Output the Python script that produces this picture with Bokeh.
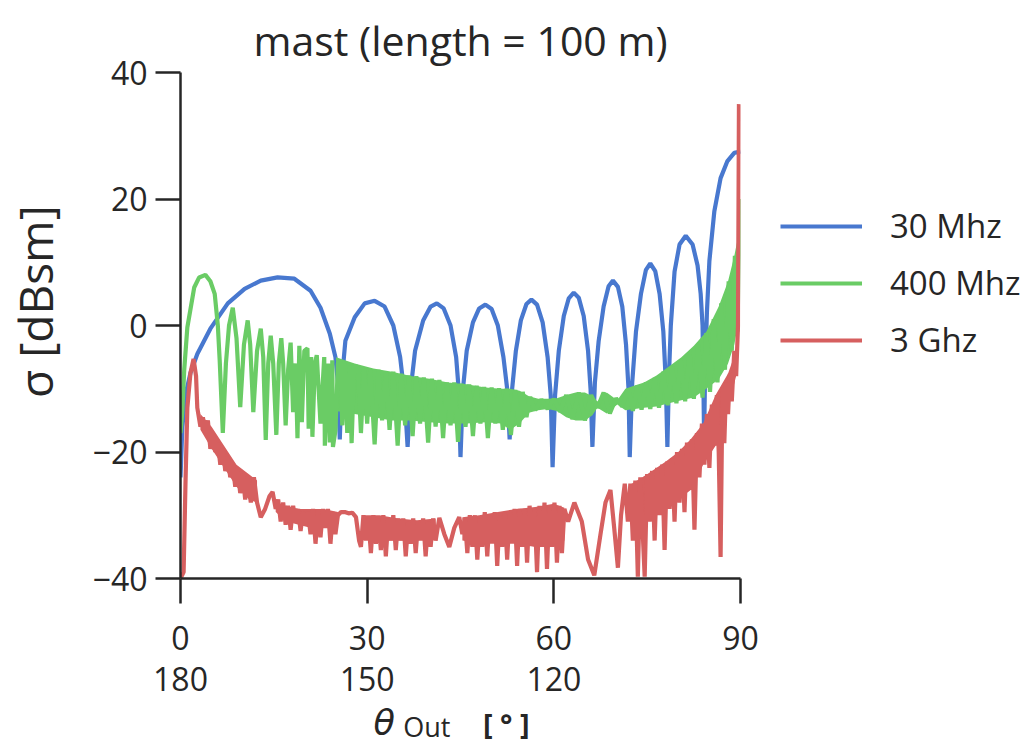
from bokeh.plotting import figure
from bokeh.models import Legend, LegendItem, Range1d, Label
from bokeh.layouts import row, column
from bokeh.embed import file_html
from bokeh.resources import INLINE

# ---------------- data ----------------
title_text = "mast (length = 100 m)"
series_names = ["30 Mhz", "400 Mhz", "3 Ghz"]
series_colors = ["#4878CF", "#6ACC65", "#D65F5F"]
x_ticks = [0, 30, 60, 90]
x_tick_labels = ["0\n180", "30\n150", "60\n120", "90"]
y_ticks = [-40, -20, 0, 20, 40]
y_tick_labels = ["\u221240", "\u221220", "0", "20", "40"]

# 30 MHz
blue_x = [0.0, 0.3, 0.8, 1.6, 2.7, 4.8, 7.6, 10.3, 12.9, 15.6, 18.3, 20.9, 22.5, 24.0, 24.9, 25.3, 25.6,
          25.9, 26.5, 28.0, 29.6, 31.2, 32.8, 34.2, 35.3, 36.0, 36.5,
          37.0, 37.7, 39.0, 40.2, 41.2, 42.3, 43.4, 44.3, 44.7, 45.0,
          45.4, 46.0, 47.0, 48.0, 49.0, 50.0, 51.0, 51.9, 52.5, 52.9,
          53.3, 53.9, 54.7, 55.6, 56.4, 57.3, 58.2, 59.0, 59.5, 59.8,
          60.2, 60.8, 61.6, 62.4, 63.2, 64.0, 64.8, 65.5, 65.9, 66.2,
          66.6, 67.2, 68.0, 68.8, 69.5, 70.3, 71.0, 71.6, 72.0, 72.2,
          72.6, 73.2, 74.0, 74.8, 75.5, 76.3, 77.0, 77.6, 78.0, 78.25,
          78.5, 78.8, 79.4, 80.2, 81.2, 82.3, 83.1, 83.6, 83.9, 84.05, 84.15,
          84.3, 84.6, 85.0, 85.8, 86.8, 87.9, 89.0, 90.0]
blue_y = [-24.0, -16.0, -11.0, -7.5, -4.5, -0.5, 3.5, 5.8, 7.1, 7.6, 7.4, 5.5, 2.8, -1.3, -5.0, -9.0, -18.0,
          -9.0, -2.4, 1.3, 3.5, 3.9, 3.0, 0.0, -5.0, -11.0, -19.2,
          -10.0, -4.0, 0.8, 3.0, 3.5, 2.7, 0.0, -5.0, -10.0, -20.8,
          -10.0, -4.0, 0.5, 2.7, 3.3, 2.6, 0.0, -5.0, -10.0, -18.0,
          -10.0, -4.0, 0.8, 3.4, 4.1, 3.3, 0.5, -5.0, -11.0, -22.4,
          -11.0, -4.0, 1.5, 4.3, 5.2, 4.4, 1.5, -4.0, -10.0, -19.2,
          -9.0, -2.5, 3.0, 6.2, 7.1, 6.1, 3.0, -3.0, -10.0, -20.8,
          -9.0, -1.0, 5.0, 8.8, 9.8, 8.6, 5.0, -1.0, -9.0, -19.2,
          -8.0, 0.0, 8.5, 12.8, 14.2, 12.8, 9.5, 5.0, 0.0, -10.0, -18.0,
          -8.0, 2.0, 10.2, 18.1, 23.3, 26.0, 27.3, 27.5]

# 400 MHz (individual lobes, then the dense part as peaks / dips)
green_x = [0.0, 0.3, 0.6, 1.1, 2.2, 3.0, 4.0, 4.8, 5.5, 6.0, 6.3, 6.8, 7.3, 7.8, 8.4, 9.0, 9.6,
           10.2, 10.8, 11.2, 11.7, 12.3, 12.9, 13.3, 13.7, 14.1, 14.5, 14.9, 15.4, 15.8, 16.2,
           16.5, 16.9, 17.3, 17.7, 18.1, 18.5, 18.8, 19.1, 19.5, 19.9, 20.4, 20.6, 21.0, 21.2,
           21.6, 21.9, 22.5, 23.1, 23.2, 23.7, 24.0, 24.4, 24.5, 24.9, 25.3, 25.7, 26.0, 26.4,
           26.8, 27.2, 27.5, 27.9, 28.5, 29.0, 29.5, 30.0, 30.5, 31.2, 31.8, 32.4, 33.0, 33.6,
           34.2, 34.9, 35.5, 36.1, 36.7, 37.3, 37.9, 38.5, 39.1, 39.8, 40.4, 41.0, 41.6, 42.2,
           42.8, 43.4, 44.0, 44.6, 45.2, 45.8, 46.4, 47.0, 47.6, 48.2, 48.8, 49.4, 50.0, 50.6,
           51.2, 51.8, 52.4, 53.1, 53.8, 54.4, 55.0, 55.6, 56.2, 57.0, 58.0, 59.0, 60.0, 61.0,
           62.0, 63.0, 64.0, 65.0, 66.0, 67.0, 68.0, 69.0, 70.0, 71.0, 72.0, 72.7, 73.4, 74.1,
           74.8, 75.5, 76.2, 76.9, 77.6, 78.3, 79.0, 79.7, 80.4, 81.1, 81.8, 82.5, 83.2, 83.9,
           84.5, 85.1, 85.7, 86.3, 86.9, 87.5, 88.1, 88.6, 89.1, 89.5, 89.8, 90.0]
green_y = [-17.0, -13.4, -7.0, -0.3, 6.0, 7.6, 8.0, 7.0, 5.0, 0.0, -5.5, -17.0, -6.0, 0.0, 2.8, -2.0, -12.9,
           -3.0, 0.8, -3.0, -13.7, -4.0, -0.5, -5.0, -18.1, -6.0, -1.6, -6.0, -17.3, -6.0, -2.0,
           -6.0, -15.8, -7.0, -2.7, -13.7, -6.0, -17.8, -3.2, -15.3, -4.0, -3.6, -16.3, -5.0, -17.6,
           -6.0, -4.7, -15.5, -5.0, -19.0, -6.0, -18.5, -5.5, -19.2, -16.6, -6.0, -5.5, -15.8, -6.0,
           -17.0, -6.3, -18.6, -6.6, -6.5, -17.0, -6.8, -15.5, -6.9, -18.8, -7.0, -15.0, -7.2, -16.5,
           -7.3, -19.0, -7.6, -15.8, -7.9, -17.5, -8.0, -15.5, -8.2, -18.5, -8.4, -16.0, -8.6, -17.8,
           -9.0, -15.8, -9.0, -18.4, -9.2, -16.0, -9.3, -17.5, -9.5, -15.5, -9.7, -17.8, -9.8, -15.5,
           -9.9, -16.5, -10.0, -17.3, -10.2, -16.0, -10.5, -14.5, -11.3, -13.4, -11.7, -13.2, -11.6, -13.6,
           -11.0, -14.8, -10.6, -15.0, -11.0, -13.0, -10.6, -13.9, -11.5, -12.8, -10.0, -13.5, -9.5, -13.3,
           -9.0, -13.2, -8.3, -13.0, -7.3, -12.6, -6.5, -12.3, -5.5, -12.0, -4.2, -11.6, -3.0, -11.4,
           -1.2, -10.5, 1.0, -9.0, 3.5, -7.0, 7.0, -4.0, 11.0, -1.0, 14.0, 20.0]
# 400 MHz: envelope of the densely oscillating band
green_band_x = [25, 28, 31, 34, 37, 40, 43, 46, 49, 51.5, 53, 54.5, 56, 57.5, 59, 60.5, 62, 63.5,
                65, 66.2, 67, 68.5, 70.2, 71.5, 73, 74.5, 76.5, 78.5, 80.5, 82.5, 84.5, 86.5, 88, 89, 89.6]
green_band_hi = [-5, -6, -6.8, -7.3, -8, -8.4, -9, -9.3, -9.8, -10, -10, -10.3, -11.2, -11.6, -11.6,
                 -11.5, -11, -10.6, -10.6, -11.2, -12, -10.6, -11.8, -10, -9.5, -9, -7.9, -6.5, -5,
                 -3.2, -1, 3, 7, 11, 14]
green_band_lo = [-13.5, -14, -14.5, -15, -15, -15.3, -15.5, -15.5, -15.3, -15.5, -16.5, -15.5, -13.8,
                 -13.4, -13.2, -13.5, -14.5, -15, -15, -14.2, -13, -13.9, -12.5, -13.4, -13.2, -13,
                 -12.8, -12.3, -11.8, -11.4, -10, -8.5, -6, -3, 0]

# 3 GHz
red_x = [0.0, 0.5, 0.8, 1.1, 1.6, 2.1, 2.5, 2.7, 3.2, 3.6, 4.0, 4.4, 4.8, 5.2, 5.6, 6.0, 6.4, 6.8,
         7.2, 7.6, 8.0, 8.4, 8.8, 9.2, 9.6, 10.0, 10.4, 10.8, 11.3, 11.8, 12.3, 12.9, 13.6, 14.3,
         14.8, 15.3, 15.7, 16.1, 16.5, 16.9, 17.3, 17.7, 18.1, 18.5, 18.9, 19.3, 19.7, 20.1, 20.5,
         20.9, 21.3, 21.7, 22.1, 22.5, 22.9, 23.3, 23.7, 24.1, 24.5, 24.9, 25.3, 25.8, 26.4, 27.0,
         27.6, 28.2, 28.7, 29.0, 29.4, 29.8, 30.2, 30.6, 31.0, 31.4, 31.8, 32.2, 32.6, 33.0, 33.4,
         33.8, 34.2, 34.6, 35.0, 35.4, 35.8, 36.2, 36.6, 37.0, 37.4, 37.8, 38.2, 38.6, 39.0, 39.4,
         39.8, 40.2, 40.6, 41.0, 41.6, 42.4, 43.2, 44.0, 44.8, 45.3, 45.7, 46.1, 46.5, 46.9, 47.3,
         47.7, 48.1, 48.5, 48.9, 49.3, 49.7, 50.1, 50.5, 50.9, 51.3, 51.7, 52.1, 52.5, 52.9, 53.3,
         53.7, 54.1, 54.5, 54.9, 55.3, 55.7, 56.1, 56.5, 56.9, 57.3, 57.7, 58.1, 58.5, 58.9, 59.3,
         59.7, 60.1, 60.5, 60.9, 61.3, 61.7, 62.3, 63.3, 64.5, 65.5, 66.5, 67.5, 68.3, 69.1, 69.7,
         70.3, 70.8, 71.4, 71.9, 72.3, 72.7, 73.1, 73.5, 73.9, 74.3, 74.6, 75.0, 75.4, 75.8, 76.2,
         76.6, 77.0, 77.4, 77.8, 78.2, 78.6, 79.0, 79.4, 79.8, 80.2, 80.6, 81.0, 81.4, 81.8, 82.2,
         82.6, 83.0, 83.4, 83.8, 84.2, 84.6, 85.0, 85.4, 85.8, 86.2, 86.5, 86.8, 87.1, 87.4, 87.7,
         88.0, 88.3, 88.6, 89.0, 89.3, 89.6, 89.75]
red_y = [-40.0, -39.0, -25.0, -13.0, -7.5, -5.3, -8.0, -13.0, -16.0, -14.5, -17.0, -15.0, -19.5, -17.0,
         -20.0, -18.5, -22.0, -19.5, -23.0, -21.0, -24.0, -22.0, -25.5, -23.0, -26.5, -23.5, -27.5,
         -24.0, -28.0, -24.0, -28.0, -30.3, -29.0, -27.0, -26.3, -29.0, -27.5, -31.0, -28.0, -31.5,
         -28.5, -32.3, -28.5, -31.0, -29.0, -32.5, -29.5, -31.0, -29.5, -33.0, -29.0, -34.5, -29.5,
         -33.5, -29.0, -32.0, -29.0, -34.5, -29.5, -33.0, -30.0, -29.5, -29.5, -29.7, -29.6, -30.3,
         -34.0, -35.0, -30.0, -34.0, -30.5, -36.0, -30.0, -34.5, -30.5, -35.5, -30.0, -36.5, -30.5,
         -34.0, -30.0, -35.5, -30.5, -34.0, -30.5, -36.5, -31.0, -34.5, -30.5, -36.0, -31.0, -34.0,
         -30.5, -36.5, -31.0, -35.0, -30.5, -34.0, -30.4, -33.0, -35.0, -32.0, -30.3, -33.0, -30.5,
         -36.0, -30.0, -35.0, -30.0, -37.0, -30.5, -35.0, -29.5, -36.5, -30.0, -34.0, -29.5, -38.0,
         -30.0, -35.0, -29.5, -37.0, -29.5, -34.0, -29.0, -38.0, -29.0, -35.0, -29.0, -37.5, -28.5,
         -34.0, -29.0, -39.0, -28.5, -35.0, -28.0, -38.5, -28.5, -35.0, -28.0, -37.5, -28.5, -36.0,
         -29.0, -31.0, -28.0, -31.0, -37.0, -39.5, -33.0, -28.0, -26.0, -32.0, -38.3, -30.0, -25.0,
         -31.0, -25.0, -34.0, -24.5, -39.7, -24.0, -33.0, -39.7, -23.5, -31.0, -23.0, -34.0, -22.5,
         -30.0, -22.0, -35.5, -21.5, -29.0, -21.0, -31.0, -20.0, -28.0, -19.5, -29.5, -18.5, -26.0,
         -18.0, -32.3, -17.0, -24.0, -15.5, -22.0, -14.0, -22.5, -12.5, -19.0, -11.0, -20.0, -36.6,
         -10.0, -18.6, -9.0, -14.0, -7.6, -12.0, -4.0, -8.0, 0.0, 35.0]
# 3 GHz: envelopes of the densely oscillating stretches
red_bands = [
    {"x": [3.2, 5, 7, 9, 11, 12.3], "hi": [-14, -16, -19, -22, -23.5, -24.5],
     "lo": [-16.5, -19.5, -22.5, -25.5, -27.5, -28]},
    {"x": [15.3, 17, 19, 21, 23, 25.3], "hi": [-28, -28.5, -29, -29, -29, -29.5],
     "lo": [-29.5, -31, -31.5, -32, -32, -32]},
    {"x": [29.4, 32, 35, 38, 41], "hi": [-30, -30, -30.5, -30.8, -30.5],
     "lo": [-33.5, -34, -34, -34, -33.5]},
    {"x": [45.3, 48, 51, 54, 57, 60, 61.7], "hi": [-30.3, -30, -29.5, -29, -28.7, -28.2, -28.8],
     "lo": [-34, -34.5, -34.5, -34.5, -35, -35, -34]},
    {"x": [72.5, 75, 78, 80, 82, 84, 86, 88, 89.3], "hi": [-25, -23.5, -21.5, -20, -18, -15.5, -11, -7.6, -4],
     "lo": [-31, -30, -29, -27.5, -26, -22, -19, -13, -8]},
]

# ---------------- styling ----------------
TXT = "#262626"
FONT = "Open Sans"
LW = 4.2
NAN = float("nan")

# main plot
p = figure(frame_width=560, frame_height=506, x_range=Range1d(0, 90), y_range=Range1d(-40, 40),
           output_backend="svg", toolbar_location=None,
           min_border_left=178, min_border_right=30, min_border_top=72, min_border_bottom=122)
p.outline_line_color = None
p.xgrid.visible = False
p.ygrid.visible = False

p.title.text = title_text
p.title.align = "center"
p.title.text_font = FONT
p.title.text_font_size = "41px"
p.title.text_font_style = "normal"
p.title.text_color = TXT

for ax in (p.xaxis[0], p.yaxis[0]):
    ax.axis_line_color = TXT
    ax.axis_line_width = 2.5
    ax.major_tick_line_color = TXT
    ax.major_tick_line_width = 2.5
    ax.major_tick_out = 25
    ax.major_tick_in = 0
    ax.minor_tick_out = 0
    ax.minor_tick_in = 0
    ax.major_label_text_font = FONT
    ax.major_label_text_font_size = "32px"
    ax.major_label_text_color = TXT

p.xaxis.ticker = x_ticks
p.xaxis.major_label_overrides = dict(zip(x_ticks, x_tick_labels))
p.xaxis.major_label_standoff = 12
p.xaxis.major_label_text_line_height = 0.96
p.yaxis.ticker = y_ticks
p.yaxis.major_label_overrides = dict(zip(y_ticks, y_tick_labels))
p.yaxis.major_label_standoff = 8

p.yaxis.axis_label = "\u00a0\u00a0\u00a0\u00a0\u03c3 [dBsm]"
p.yaxis.axis_label_text_font = FONT
p.yaxis.axis_label_text_font_size = "46px"
p.yaxis.axis_label_text_font_style = "normal"
p.yaxis.axis_label_text_color = TXT
p.yaxis.axis_label_standoff = 24

r_blue = p.line(blue_x, blue_y, line_color=series_colors[0], line_width=LW)
p.varea(x=green_band_x, y1=green_band_lo, y2=green_band_hi, fill_color=series_colors[1])
r_green = p.line(green_x, green_y, line_color=series_colors[1], line_width=LW)
for b in red_bands:
    p.varea(x=b["x"], y1=b["lo"], y2=b["hi"], fill_color=series_colors[2])
r_red = p.line(red_x, red_y, line_color=series_colors[2], line_width=LW)

# x-axis label strip: theta_Out [ ° ]
px = figure(frame_width=560, frame_height=42, x_range=p.x_range, y_range=Range1d(0, 42),
            output_backend="svg", toolbar_location=None, x_axis_type=None, y_axis_type=None,
            min_border_left=178, min_border_right=30, min_border_top=0, min_border_bottom=0)
px.outline_line_color = None
px.grid.visible = False
px.add_layout(Label(x=31.0, y=21.5, text="\u03b8", text_font="DejaVu Sans", text_font_style="italic",
                    text_font_size="35px", text_color=TXT, text_baseline="middle", text_align="left"))
px.add_layout(Label(x=35.8, y=18.5, text="Out", text_font=FONT, text_font_size="27px",
                    text_color=TXT, text_baseline="middle", text_align="left"))
px.add_layout(Label(x=48.6, y=21, text="[ \u00b0 ]", text_font=FONT, text_font_style="bold",
                    text_font_size="29px", text_color=TXT, text_baseline="middle", text_align="left"))

# legend panel
pl = figure(frame_width=255, frame_height=744, x_range=Range1d(0, 1), y_range=Range1d(0, 1),
            output_backend="svg", toolbar_location=None, x_axis_type=None, y_axis_type=None,
            min_border_left=0, min_border_right=0, min_border_top=0, min_border_bottom=0)
pl.outline_line_color = None
pl.grid.visible = False
lb = pl.line([NAN], [NAN], line_color=series_colors[0], line_width=LW)
lg = pl.line([NAN], [NAN], line_color=series_colors[1], line_width=LW)
lr = pl.line([NAN], [NAN], line_color=series_colors[2], line_width=LW)
legend = Legend(items=[LegendItem(label=series_names[0], renderers=[lb]),
                       LegendItem(label=series_names[1], renderers=[lg]),
                       LegendItem(label=series_names[2], renderers=[lr])],
                location=(10, 382))
legend.border_line_color = None
legend.background_fill_alpha = 0
legend.padding = 0
legend.margin = 0
legend.spacing = 12
legend.glyph_width = 82
legend.glyph_height = 40
legend.label_height = 40
legend.label_standoff = 28
legend.label_text_font = FONT
legend.label_text_font_size = "33px"
legend.label_text_color = TXT
pl.add_layout(legend)

layout = row(column(p, px), pl)
open("out.html", "w").write(file_html(layout, INLINE))
